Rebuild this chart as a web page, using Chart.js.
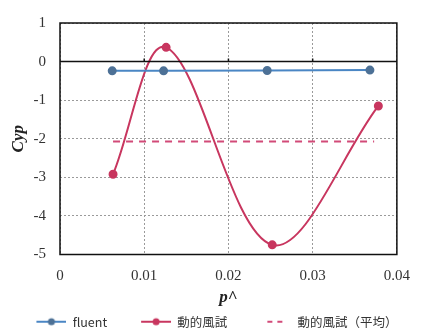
<!DOCTYPE html>
<html>
<head>
<meta charset="utf-8">
<script src="https://cdn.jsdelivr.net/npm/chart.js@4"></script>
<style>
  html, body { margin: 0; padding: 0; background: #fff; }
  #wrap { width: 423px; height: 334px; }
</style>
</head>
<body>
<div id="wrap"><canvas id="chart" width="423" height="334"></canvas></div>
<script>
/* ---- data ---- */
const fluentX = [0.0062, 0.0123, 0.0246, 0.0368];
const fluentY = [-0.24, -0.24, -0.23, -0.22];

const windX = [0.0063, 0.0126, 0.0252, 0.0378];
const windY = [-2.92, 0.37, -4.75, -1.15];

const meanX = [0.0063, 0.0373];
const meanY = [-2.07, -2.07];

const xTicks = [0, 0.01, 0.02, 0.03, 0.04];
const yTicks = [1, 0, -1, -2, -3, -4, -5];

const seriesNames = ["fluent", "動的風試", "動的風試（平均）"];

const BLUE_LINE = "#4a86c4";
const BLUE_DOT = "#4d7196";
const RED = "#c8365f";
const RED_DASH = "#d24a78";

const SWATCH_W = 56;

function toXY(xs, ys) {
  return xs.map((x, i) => ({ x, y: ys[i] }));
}

/* legend swatch: empty space on the left (acts as item gap), then the sample line */
function makeSwatch(color, dotColor, dashed) {
  const c = document.createElement("canvas");
  c.width = SWATCH_W;
  c.height = 10;
  const g = c.getContext("2d");
  g.strokeStyle = color;
  g.lineWidth = 2;
  if (dashed) {
    g.setLineDash([5, 5]);
    g.beginPath();
    g.moveTo(SWATCH_W - 24, 5);
    g.lineTo(SWATCH_W - 6, 5);
    g.stroke();
  } else {
    g.beginPath();
    g.moveTo(SWATCH_W - 30, 5);
    g.lineTo(SWATCH_W, 5);
    g.stroke();
    g.fillStyle = dotColor;
    g.beginPath();
    g.arc(SWATCH_W - 15, 5, 3.5, 0, Math.PI * 2);
    g.fill();
  }
  return c;
}

/* black frame + solid zero line, like the original */
const framePlugin = {
  id: "frame",
  afterDatasetsDraw(chart) {
    const { ctx, chartArea: a, scales } = chart;
    const y0 = scales.y.getPixelForValue(0);
    ctx.save();
    ctx.strokeStyle = "#111";
    ctx.lineWidth = 1.5;
    ctx.strokeRect(a.left, a.top, a.right - a.left, a.bottom - a.top);
    ctx.beginPath();
    ctx.moveTo(a.left, y0);
    ctx.lineTo(a.right, y0);
    xTicks.slice(1, -1).forEach((v) => {
      const px = scales.x.getPixelForValue(v);
      ctx.moveTo(px, y0);
      ctx.lineTo(px, y0 - 3);
    });
    ctx.stroke();
    ctx.restore();
  }
};

new Chart(document.getElementById("chart"), {
  type: "scatter",
  data: {
    datasets: [
      {
        label: seriesNames[0],
        data: toXY(fluentX, fluentY),
        showLine: true,
        borderColor: BLUE_LINE,
        borderWidth: 2,
        pointRadius: 3.5,
        pointBackgroundColor: BLUE_DOT,
        pointBorderColor: BLUE_DOT,
        tension: 0
      },
      {
        label: seriesNames[1],
        data: toXY(windX, windY),
        showLine: true,
        borderColor: RED,
        borderWidth: 2,
        pointRadius: 3.5,
        pointBackgroundColor: RED,
        pointBorderColor: RED,
        tension: 0.35
      },
      {
        label: seriesNames[2],
        data: toXY(meanX, meanY),
        showLine: true,
        borderColor: RED_DASH,
        borderWidth: 2,
        borderDash: [7, 6],
        pointRadius: 0,
        tension: 0
      }
    ]
  },
  options: {
    responsive: false,
    animation: false,
    layout: { padding: { left: 0, right: 15, top: 14, bottom: -4 } },
    plugins: {
      tooltip: { enabled: false },
      legend: {
        position: "bottom",
        labels: {
          usePointStyle: true,
          pointStyleWidth: SWATCH_W,
          padding: 8,
          color: "#333",
          font: { family: "'Noto Sans CJK JP', 'Noto Sans', sans-serif", size: 12.5 },
          generateLabels: () => [
            { text: seriesNames[0], pointStyle: makeSwatch(BLUE_LINE, BLUE_DOT, false), fontColor: "#333", datasetIndex: 0, lineWidth: 0 },
            { text: seriesNames[1], pointStyle: makeSwatch(RED, RED, false), fontColor: "#333", datasetIndex: 1, lineWidth: 0 },
            { text: seriesNames[2], pointStyle: makeSwatch(RED_DASH, RED_DASH, true), fontColor: "#333", datasetIndex: 2, lineWidth: 0 }
          ]
        }
      }
    },
    scales: {
      x: {
        type: "linear",
        min: xTicks[0],
        max: xTicks[xTicks.length - 1],
        afterBuildTicks: (s) => { s.ticks = xTicks.map((v) => ({ value: v })); },
        afterFit: (s) => { s.height = 53; },
        grid: { color: "#9a9a9a", drawTicks: false },
        border: { display: false, dash: [2, 2] },
        ticks: {
          padding: 13,
          color: "#333",
          font: { family: "'Liberation Serif', serif", size: 15 },
          callback: (v) => String(v)
        },
        title: {
          display: true,
          text: "p^",
          color: "#222",
          padding: { top: 4, bottom: 0 },
          font: { family: "'Liberation Serif', serif", size: 17, weight: "bold", style: "italic" }
        }
      },
      y: {
        type: "linear",
        min: yTicks[yTicks.length - 1],
        max: yTicks[0],
        afterBuildTicks: (s) => { s.ticks = yTicks.map((v) => ({ value: v })); },
        afterFit: (s) => { s.width = 60; },
        grid: { color: "#9a9a9a", drawTicks: false },
        border: { display: false, dash: [2, 2] },
        ticks: {
          padding: 14,
          color: "#333",
          font: { family: "'Liberation Serif', serif", size: 15 }
        },
        title: {
          display: true,
          text: "Cyp",
          color: "#222",
          padding: { top: 8, bottom: 4 },
          font: { family: "'Liberation Serif', serif", size: 17, weight: "bold", style: "italic" }
        }
      }
    }
  },
  plugins: [framePlugin]
});
</script>
</body>
</html>
